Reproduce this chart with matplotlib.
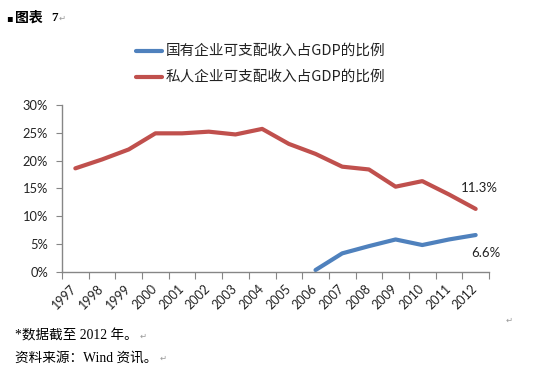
import matplotlib
matplotlib.use("Agg")
import matplotlib.pyplot as plt
from matplotlib.lines import Line2D
import matplotlib.transforms as mtrans
import numpy as np

plt.rcParams['font.family'] = ['Noto Sans CJK SC', 'DejaVu Sans']

years = ['1997', '1998', '1999', '2000', '2001', '2002', '2003', '2004',
         '2005', '2006', '2007', '2008', '2009', '2010', '2011', '2012']
private_share = [18.6, 20.2, 22.0, 24.9, 24.9, 25.2, 24.7, 25.7,
                 23.0, 21.2, 18.9, 18.4, 15.3, 16.3, 13.9, 11.3]
state_years = ['2006', '2007', '2008', '2009', '2010', '2011', '2012']
state_share = [0.3, 3.3, 4.6, 5.8, 4.8, 5.8, 6.6]
series_names = ['国有企业可支配收入占GDP的比例', '私人企业可支配收入占GDP的比例']
y_ticks = [0, 5, 10, 15, 20, 25, 30]

blue = '#4F81BD'
red = '#C0504D'
gray = '#868686'
num_font = ['Lato', 'DejaVu Sans']

fig = plt.figure(figsize=(5.5, 3.71), dpi=100)
ax = fig.add_axes([62/550, 1-271.7/371, (489-62)/550, (271.7-105)/371])

x = np.arange(len(years))
xs = np.array([years.index(y) for y in state_years])
ax.plot(x, private_share, color=red, lw=3.0, solid_capstyle='round', solid_joinstyle='round')
ax.plot(xs, state_share, color=blue, lw=3.0, solid_capstyle='round', solid_joinstyle='round')

ax.set_xlim(-0.5, len(years) - 0.5)
ax.set_ylim(0, 30)
ax.set_yticks(y_ticks)
ax.set_yticklabels([f'{v}%' for v in y_ticks], fontsize=9.3, color='#222222', family=num_font)
ax.set_xticks(np.arange(-0.5, len(years), 1.0))
ax.set_xticklabels([])
ax.tick_params(axis='x', which='major', length=5, color=gray, direction='out')
ax.tick_params(axis='y', length=4, color=gray, direction='out', pad=6)

# rotated category labels
base = mtrans.blended_transform_factory(ax.transData, ax.transAxes)
off = mtrans.ScaledTranslation(-4.5/100, -11/100, fig.dpi_scale_trans)
for xi, lab in zip(x, years):
    ax.text(xi, 0, lab, transform=base + off, rotation=45, ha='right', va='top',
            rotation_mode='anchor', fontsize=9, color='#222222', family=num_font,
            clip_on=False)

for s in ['top', 'right']:
    ax.spines[s].set_visible(False)
for s in ['left', 'bottom']:
    ax.spines[s].set_color(gray)
    ax.spines[s].set_linewidth(1.0)

ax.annotate(f'{private_share[-1]:.1f}%', xy=(x[-1], private_share[-1]),
            xytext=(3, 15), textcoords='offset points', ha='center', va='center',
            fontsize=9.5, color='#222222', family=num_font)
ax.annotate(f'{state_share[-1]:.1f}%', xy=(xs[-1], state_share[-1]),
            xytext=(7, -13), textcoords='offset points', ha='center', va='center',
            fontsize=9.5, color='#222222', family=num_font)

# legend
for i, (name, col) in enumerate(zip(series_names, [blue, red])):
    yy = 1 - (51 + 26*i)/371
    fig.add_artist(Line2D([136/550, 162/550], [yy, yy], color=col, lw=3.0,
                          solid_capstyle='round', transform=fig.transFigure))
    fig.text(166/550, yy, name, fontsize=10.5, va='center', ha='left', color='#222222')

renderer = fig.canvas.get_renderer()

def ret_mark_after(t, gap=2):
    bb = t.get_window_extent(renderer)
    xx = (bb.x1 + gap) / fig.bbox.width
    yy = t.get_position()[1]
    fig.text(xx, yy, '↵', fontsize=6, va='center', ha='left', color='#999999',
             family=['DejaVu Sans'])

# title
fig.text(6/550, 1-18/371, '▪', fontsize=7, va='center', ha='left', family=['DejaVu Sans'])
fig.text(15/550, 1-18/371, '图表', fontsize=10, va='center', ha='left', weight='bold')
t7 = fig.text(51/550, 1-18/371, '7', fontsize=9.5, va='center', ha='left', weight='bold',
              family=['Liberation Serif'])
ret_mark_after(t7, 1)

# footnotes
foot_font = ['Liberation Serif', 'Noto Sans CJK SC']
f1 = fig.text(15/550, 1-336/371, '*数据截至 2012 年。', fontsize=9.8, va='center', ha='left',
              family=foot_font)
ret_mark_after(f1, 2)
f2 = fig.text(15/550, 1-358/371, '资料来源：Wind 资讯。', fontsize=9.8, va='center', ha='left',
              family=foot_font)
ret_mark_after(f2, 2)
fig.text(506/550, 1-320/371, '↵', fontsize=6, va='center', ha='left', color='#999999',
         family=['DejaVu Sans'])

fig.savefig('out.png', dpi=100)
